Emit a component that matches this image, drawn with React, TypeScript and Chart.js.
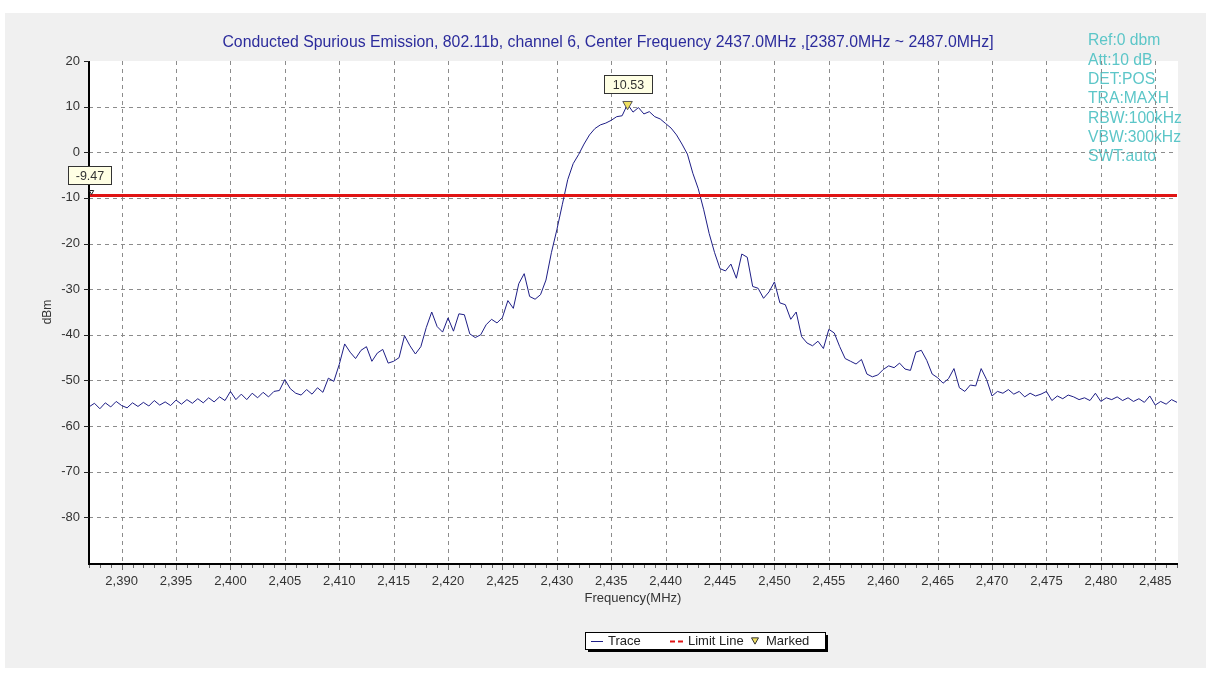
import { useEffect, useRef } from "react";
import { Chart, registerables } from "chart.js";

Chart.register(...registerables);

// ---- data ----
const sweepStartMHz = 2387;
const sweepStepMHz = 0.5;
// one row = 5 MHz (10 sweep points at 0.5 MHz)
const traceLevels = [
  -55.8, -55.0, -56.2, -54.9, -55.8, -54.6, -55.5, -56.0, -54.9, -55.7, // 2387.0
  -54.8, -55.6, -54.4, -55.4, -54.7, -55.5, -54.3, -55.2, -54.2, -55.0, // 2392.0
  -54.0, -54.9, -53.8, -54.7, -53.6, -54.4, -52.4, -54.2, -53.0, -54.2, // 2397.0
  -52.8, -53.8, -52.6, -53.6, -52.4, -52.2, -49.8, -51.8, -52.8, -53.2, // 2402.0
  -52.0, -53.0, -51.6, -52.6, -49.5, -50.2, -46.5, -42.0, -43.8, -45.2, // 2407.0
  -43.4, -42.6, -45.8, -44.0, -43.2, -46.2, -45.8, -45.0, -40.2, -42.4, // 2412.0
  -44.2, -42.6, -38.4, -35.0, -38.2, -39.4, -36.3, -39.2, -35.4, -35.6, // 2417.0
  -39.8, -40.6, -40.0, -37.8, -36.6, -37.4, -36.2, -32.5, -34.2, -28.8, // 2422.0
  -26.6, -31.6, -32.2, -31.2, -28.0, -22.0, -17.0, -11.5, -6.0, -2.5, // 2427.0
  -0.5, 1.8, 3.8, 5.2, 6.0, 6.4, 7.0, 7.8, 8.0, 10.53, // 2432.0
  8.8, 9.8, 8.4, 8.9, 7.8, 7.3, 6.3, 5.3, 3.8, 1.8, // 2437.0
  -0.4, -4.6, -8.0, -12.6, -17.8, -22.0, -25.5, -26.0, -24.5, -27.6, // 2442.0
  -22.3, -23.0, -29.4, -29.8, -32.0, -30.6, -28.4, -33.0, -33.4, -36.6, // 2447.0
  -35.0, -40.4, -41.8, -42.4, -41.4, -43.0, -38.8, -39.6, -42.6, -45.2, // 2452.0
  -45.8, -46.4, -45.4, -48.6, -49.2, -48.8, -47.6, -46.8, -47.2, -46.2, // 2457.0
  -47.5, -47.8, -43.8, -43.4, -45.6, -48.6, -49.4, -50.6, -49.6, -47.4, // 2462.0
  -51.6, -52.4, -51.0, -51.2, -47.4, -49.8, -53.4, -52.4, -52.8, -52.0, // 2467.0
  -53.0, -52.4, -53.6, -52.8, -53.4, -53.0, -52.4, -54.4, -53.4, -54.0, // 2472.0
  -53.2, -53.6, -54.2, -53.8, -54.4, -52.8, -54.6, -53.8, -54.2, -53.6, // 2477.0
  -54.4, -53.8, -54.6, -54.0, -54.8, -53.4, -55.4, -54.6, -55.2, -54.2, // 2482.0
  -54.8, // 2487.0
];
const limitLevel = -9.47;
const limitLabel = "-9.47";
const peakFreq = 2436.5;
const peakLevel = 10.53;
const peakLabel = "10.53";
const xMin = 2387;
const xMax = 2487;
const yMin = -90;
const yMax = 20;
const xTickValues = [2390, 2395, 2400, 2405, 2410, 2415, 2420, 2425, 2430, 2435, 2440, 2445, 2450, 2455, 2460, 2465, 2470, 2475, 2480, 2485];
const yTickValues = [20, 10, 0, -10, -20, -30, -40, -50, -60, -70, -80];
const titleText = "Conducted Spurious Emission, 802.11b, channel 6, Center Frequency 2437.0MHz ,[2387.0MHz ~ 2487.0MHz]";
const xAxisTitle = "Frequency(MHz)";
const yAxisTitle = "dBm";
const infoLines = ["Ref:0 dbm", "Att:10 dB", "DET:POS", "TRA:MAXH", "RBW:100kHz", "VBW:300kHz", "SWT:auto"];
const legendLabels = ["Trace", "Limit Line", "Marked"];

const FONT = '"Liberation Sans", Arial, sans-serif';
const TRACE_COLOR = "#1e1e86";
const LIMIT_COLOR = "#e01414";
const MARK_FILL = "#f0e060";

function drawLabelBox(ctx: CanvasRenderingContext2D, text: string, cx: number, bottom: number, w: number, h: number) {
  const x = Math.round(cx - w / 2) + 0.5;
  const y = Math.round(bottom - h) + 0.5;
  ctx.fillStyle = "#ffffe4";
  ctx.fillRect(x, y, w, h);
  ctx.strokeStyle = "#333";
  ctx.lineWidth = 1;
  ctx.setLineDash([]);
  ctx.strokeRect(x, y, w, h);
  ctx.fillStyle = "#333";
  ctx.font = `12.5px ${FONT}`;
  ctx.textAlign = "center";
  ctx.textBaseline = "middle";
  ctx.fillText(text, x + w / 2, y + h / 2 + 1);
}

function drawDownTriangle(ctx: CanvasRenderingContext2D, cx: number, cy: number, size: number, fill: string | null, stroke: string) {
  ctx.beginPath();
  ctx.moveTo(cx - size, cy - size * 0.9);
  ctx.lineTo(cx + size, cy - size * 0.9);
  ctx.lineTo(cx, cy + size * 0.9);
  ctx.closePath();
  if (fill) {
    ctx.fillStyle = fill;
    ctx.fill();
  }
  ctx.strokeStyle = stroke;
  ctx.lineWidth = 1;
  ctx.stroke();
}

const decorPlugin = {
  id: "decor",
  beforeDraw(chart: any) {
    const { ctx, chartArea: a } = chart;
    ctx.save();
    ctx.fillStyle = "#ffffff";
    ctx.fillRect(0, 0, chart.width, chart.height);
    ctx.fillStyle = "#f0f0f0";
    ctx.fillRect(5, 13, chart.width - 10, chart.height - 24);
    ctx.fillStyle = "#ffffff";
    ctx.fillRect(a.left, a.top, a.right - a.left + 1, a.bottom - a.top);
    // title
    ctx.fillStyle = "#2c2c9c";
    ctx.font = `15.8px ${FONT}`;
    ctx.textAlign = "center";
    ctx.textBaseline = "middle";
    ctx.fillText(titleText, 608, 43);
    // info text
    ctx.fillStyle = "#5cc6c8";
    ctx.font = `15.7px ${FONT}`;
    ctx.textAlign = "left";
    infoLines.forEach((t, i) => ctx.fillText(t, 1088, 41 + i * 19.3));
    ctx.restore();
  },
  beforeDatasetsDraw(chart: any) {
    const { ctx, chartArea: a, scales } = chart;
    const xs = scales.x;
    const ys = scales.y;
    ctx.save();
    ctx.strokeStyle = "#8c8c8c";
    ctx.lineWidth = 1;
    ctx.setLineDash([4, 4]);
    xTickValues.forEach((v) => {
      const px = Math.round(xs.getPixelForValue(v)) + 0.5;
      ctx.beginPath();
      ctx.moveTo(px, a.top);
      ctx.lineTo(px, a.bottom);
      ctx.stroke();
    });
    yTickValues.forEach((v) => {
      if (v === yMax) return;
      const py = Math.round(ys.getPixelForValue(v)) + 0.5;
      ctx.beginPath();
      ctx.moveTo(a.left, py);
      ctx.lineTo(a.right, py);
      ctx.stroke();
    });
    ctx.restore();
  },
  afterDatasetsDraw(chart: any) {
    const { ctx, chartArea: a, scales } = chart;
    const xs = scales.x;
    const ys = scales.y;
    ctx.save();
    ctx.setLineDash([]);
    // axis lines
    ctx.strokeStyle = "#000";
    ctx.lineWidth = 2;
    ctx.beginPath();
    ctx.moveTo(a.left, a.top);
    ctx.lineTo(a.left, a.bottom + 1);
    ctx.lineTo(a.right + 1, a.bottom + 1);
    ctx.stroke();
    // tick marks
    ctx.lineWidth = 1;
    ctx.strokeStyle = "#222";
    yTickValues.forEach((v) => {
      const py = Math.round(ys.getPixelForValue(v)) + 0.5;
      ctx.beginPath();
      ctx.moveTo(a.left - 5, py);
      ctx.lineTo(a.left, py);
      ctx.stroke();
    });
    ctx.strokeStyle = "#666";
    for (let f = Math.ceil(xMin); f <= xMax; f++) {
      const px = Math.round(xs.getPixelForValue(f)) + 0.5;
      const major = xTickValues.includes(f);
      ctx.beginPath();
      ctx.moveTo(px, a.bottom + 2);
      ctx.lineTo(px, a.bottom + (major ? 7 : 5));
      ctx.stroke();
    }
    // limit line label + small start marker
    const ly = ys.getPixelForValue(limitLevel);
    drawLabelBox(ctx, limitLabel, a.left, ly - 11, 43, 18);
    drawDownTriangle(ctx, a.left + 2.5, ly - 3, 2.2, null, "#222");
    // peak marker label
    const mx = xs.getPixelForValue(peakFreq);
    const my = ys.getPixelForValue(peakLevel);
    drawLabelBox(ctx, peakLabel, mx, my - 11, 48, 18);
    // legend
    const lx = 585, ly2 = 632, lw = 240, lh = 17;
    ctx.fillStyle = "#000";
    ctx.fillRect(lx + 3, ly2 + 3, lw, lh);
    ctx.fillStyle = "#fff";
    ctx.fillRect(lx, ly2, lw, lh);
    ctx.strokeStyle = "#000";
    ctx.lineWidth = 1;
    ctx.strokeRect(lx + 0.5, ly2 + 0.5, lw, lh);
    const cy = ly2 + lh / 2 + 0.5;
    ctx.strokeStyle = TRACE_COLOR;
    ctx.beginPath();
    ctx.moveTo(591, Math.round(cy) + 0.5);
    ctx.lineTo(603, Math.round(cy) + 0.5);
    ctx.stroke();
    ctx.strokeStyle = LIMIT_COLOR;
    ctx.lineWidth = 2;
    ctx.setLineDash([5, 3]);
    ctx.beginPath();
    ctx.moveTo(670, Math.round(cy) + 0.5);
    ctx.lineTo(684, Math.round(cy) + 0.5);
    ctx.stroke();
    ctx.setLineDash([]);
    drawDownTriangle(ctx, 755, cy, 3.5, MARK_FILL, "#333");
    ctx.fillStyle = "#222";
    ctx.font = `13px ${FONT}`;
    ctx.textAlign = "left";
    ctx.textBaseline = "middle";
    ctx.fillText(legendLabels[0], 608, cy);
    ctx.fillText(legendLabels[1], 688, cy);
    ctx.fillText(legendLabels[2], 766, cy);
    ctx.restore();
  },
};

export default function App() {
  const ref = useRef<HTMLCanvasElement>(null);
  useEffect(() => {
    document.body.style.margin = "0";
    const canvas = ref.current;
    if (!canvas) return;
    const tracePoints = traceLevels.map((v, i) => ({ x: sweepStartMHz + i * sweepStepMHz, y: v }));
    const chart = new Chart(canvas, {
      type: "line",
      data: {
        datasets: [
          {
            label: legendLabels[0],
            data: tracePoints,
            borderColor: TRACE_COLOR,
            borderWidth: 1,
            pointRadius: 0,
            tension: 0,
            order: 3,
          },
          {
            label: legendLabels[1],
            data: [
              { x: xMin, y: limitLevel },
              { x: xMax, y: limitLevel },
            ],
            borderColor: LIMIT_COLOR,
            borderWidth: 3,
            pointRadius: 0,
            order: 2,
          },
          {
            label: legendLabels[2],
            data: [{ x: peakFreq, y: peakLevel }],
            showLine: false,
            pointStyle: "triangle",
            rotation: 180,
            pointRadius: 5.5,
            backgroundColor: MARK_FILL,
            borderColor: "#555",
            borderWidth: 1,
            order: 1,
          },
        ],
      } as any,
      options: {
        responsive: false,
        animation: false,
        devicePixelRatio: 1,
        events: [],
        layout: { padding: { left: 39, right: 34, top: 61, bottom: 71 } },
        plugins: {
          legend: { display: false },
          title: { display: false },
          tooltip: { enabled: false },
        },
        scales: {
          x: {
            type: "linear",
            min: xMin,
            max: xMax,
            afterBuildTicks: (s: any) => {
              s.ticks = xTickValues.map((v) => ({ value: v }));
            },
            afterFit: (s: any) => {
              s.height = 45;
            },
            grid: { display: false, drawTicks: false },
            border: { display: false },
            ticks: {
              autoSkip: false,
              maxRotation: 0,
              padding: 11,
              color: "#333",
              font: { family: FONT, size: 13 },
              callback: (v: any) => Number(v).toLocaleString("en-US"),
            },
            title: {
              display: true,
              text: xAxisTitle,
              color: "#333",
              font: { family: FONT, size: 13 },
              padding: { top: 0, bottom: 2 },
            },
          },
          y: {
            type: "linear",
            min: yMin,
            max: yMax,
            afterBuildTicks: (s: any) => {
              s.ticks = yTickValues.map((v) => ({ value: v }));
            },
            afterFit: (s: any) => {
              s.width = 50;
            },
            grid: { display: false, drawTicks: false },
            border: { display: false },
            ticks: {
              padding: 9,
              color: "#333",
              font: { family: FONT, size: 13 },
            },
            title: {
              display: true,
              text: yAxisTitle,
              color: "#333",
              font: { family: FONT, size: 12 },
              padding: { top: 1, bottom: 0 },
            },
          },
        },
      } as any,
      plugins: [decorPlugin],
    });
    return () => chart.destroy();
  }, []);
  return <canvas ref={ref} width={1211} height={679} style={{ display: "block", width: 1211, height: 679 }} />;
}
